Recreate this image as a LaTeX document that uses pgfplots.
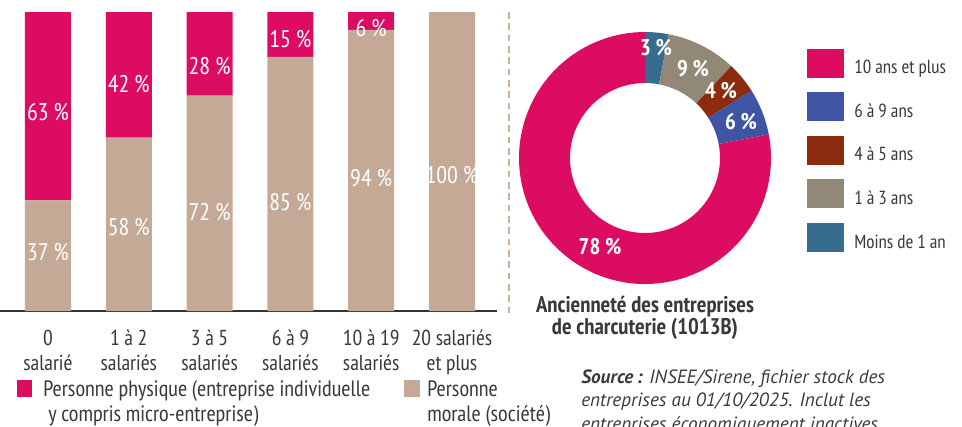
\documentclass[border=0pt]{standalone}
\usepackage{fontspec}
\usepackage{pgfplots}
\pgfplotsset{compat=1.18}
\IfFontExistsTF{PT Sans Narrow}{\setmainfont{PT Sans Narrow}}{\setmainfont{PT Sans}}
\newfontfamily\srcfont{PT Sans}
\definecolor{cpink}{RGB}{220,12,99}
\definecolor{ctan}{RGB}{196,169,150}
\definecolor{cteal}{RGB}{55,108,142}
\definecolor{cgray}{RGB}{145,136,120}
\definecolor{cbrown}{RGB}{140,43,16}
\definecolor{cblue}{RGB}{63,85,163}
\definecolor{txt}{RGB}{58,58,58}
\definecolor{csep}{RGB}{200,174,150}
\newcommand\sector[3]{\fill[#3] ([shift={(axis cs:0,0)}]#1:94.5pt) arc[start angle=#1, end angle=#2, radius=94.5pt] -- ([shift={(axis cs:0,0)}]#2:56.25pt) arc[start angle=#2, end angle=#1, radius=56.25pt] -- cycle;}
\begin{document}
\begin{tikzpicture}
\path[use as bounding box] (0pt,0pt) rectangle (721.5pt,-319.5pt);
% ---------- stacked bars ----------
\begin{axis}[at={(0pt,-233.25pt)}, anchor=south west, scale only axis,
  width=372.75pt, height=224.25pt,
  xmin=-0.594, xmax=5.557, ymin=0, ymax=100,
  ybar stacked, bar width=34.5pt,
  axis y line=none, axis x line*=bottom,
  axis line style={-, draw=black!80, line width=0.9pt},
  xtick={0,1,2,3,4,5},
  xticklabels={{0\\salarié},{1 à 2\\salariés},{3 à 5\\salariés},{6 à 9\\salariés},{10 à 19\\salariés},{20 salariés\\et plus}},
  xticklabel style={align=center, font=\fontsize{16.2}{18.75}\selectfont, text=txt, inner sep=0pt, anchor=north, yshift=-14pt},
  major tick length=0pt, clip=false]
\addplot[fill=ctan, draw=none] coordinates {(0,37) (1,58) (2,72) (3,85) (4,94) (5,100)};
\addplot[fill=cpink, draw=none] coordinates {(0,63) (1,42) (2,28) (3,15) (4,6) (5,0)};
\end{axis}
\begin{axis}[at={(0pt,-233.25pt)}, anchor=south west, scale only axis,
  width=372.75pt, height=224.25pt,
  xmin=-0.594, xmax=5.557, ymin=0, ymax=100, hide axis, clip=false]
\addplot[draw=none, mark=none, nodes near coords, point meta=explicit symbolic,
  every node near coord/.style={anchor=center, text=white, font=\fontsize{18}{18}\selectfont}]
  coordinates {(0,66.5)[63 \%] (1,76)[42 \%] (2,82)[28 \%] (3,91)[15 \%] (4,94.6)[6 \%]
               (0,19.7)[37 \%] (1,28)[58 \%] (2,33)[72 \%] (3,36.5)[85 \%] (4,44.5)[94 \%] (5,45.5)[100 \%]};
\end{axis}
% ---------- donut ----------
\pgfmathsetmacro\aA{90}
\pgfmathsetmacro\aB{\aA-3.6*3}
\pgfmathsetmacro\aC{\aB-3.6*9}
\pgfmathsetmacro\aD{\aC-3.6*4}
\pgfmathsetmacro\aE{\aD-3.6*6}
\pgfmathsetmacro\aF{\aE-3.6*78}
\begin{axis}[at={(483.75pt,-118.5pt)}, anchor=center, scale only axis,
  width=195pt, height=195pt, xmin=-130, xmax=130, ymin=-130, ymax=130,
  hide axis, clip=false]
\sector{\aA}{\aB}{cteal}
\sector{\aB}{\aC}{cgray}
\sector{\aC}{\aD}{cbrown}
\sector{\aD}{\aE}{cblue}
\sector{\aE}{\aF}{cpink}
\addplot[draw=none, mark=none, nodes near coords, point meta=explicit symbolic,
  every node near coord/.style={anchor=center, text=white, font=\bfseries\fontsize{17}{17}\selectfont}]
  coordinates {(11,110)[3 \%] (48,89)[9 \%] (76,67)[4 \%] (96,36)[6 \%] (-45,-89)[78 \%]};
\end{axis}
\begin{scope}[x=0.75pt,y=-0.75pt]
% bar legend
\fill[cpink] (17,380) rectangle (32,397);
\fill[ctan] (404,380) rectangle (420,397);
\node[anchor=base west, inner sep=0pt, text=txt, font=\fontsize{16.7}{20}\selectfont] at (43,396) {Personne physique (entreprise individuelle};
\node[anchor=base west, inner sep=0pt, text=txt, font=\fontsize{16.7}{20}\selectfont] at (48,421) {y compris micro-entreprise)};
\node[anchor=base west, inner sep=0pt, text=txt, font=\fontsize{16.7}{20}\selectfont] at (427,396) {Personne};
\node[anchor=base west, inner sep=0pt, text=txt, font=\fontsize{16.7}{20}\selectfont] at (427,421) {morale (société)};
% separator
\draw[csep, line width=1.1pt, dash pattern=on 5pt off 3.5pt] (509,12) -- (509,313);
% donut legend
\fill[cpink]  (807,49)  rectangle (844,78);
\fill[cblue]  (807,92)  rectangle (844,121);
\fill[cbrown] (807,136) rectangle (844,165);
\fill[cgray]  (807,179) rectangle (844,208);
\fill[cteal]  (807,223) rectangle (844,252);
\node[anchor=base west, inner sep=0pt, text=txt, font=\fontsize{14.2}{17}\selectfont] at (854,73) {10 ans et plus};
\node[anchor=base west, inner sep=0pt, text=txt, font=\fontsize{14.2}{17}\selectfont] at (854,117) {6 à 9 ans};
\node[anchor=base west, inner sep=0pt, text=txt, font=\fontsize{14.2}{17}\selectfont] at (854,160) {4 à 5 ans};
\node[anchor=base west, inner sep=0pt, text=txt, font=\fontsize{14.2}{17}\selectfont] at (854,204) {1 à 3 ans};
\node[anchor=base west, inner sep=0pt, text=txt, font=\fontsize{14.2}{17}\selectfont] at (854,248) {Moins de 1 an};
% title
\node[anchor=base, inner sep=0pt, text=txt, font=\bfseries\fontsize{17}{19}\selectfont] at (645,312) {Ancienneté des entreprises};
\node[anchor=base, inner sep=0pt, text=txt, font=\bfseries\fontsize{17}{19}\selectfont] at (645,334) {de charcuterie (1013B)};
% source
\node[anchor=base west, inner sep=0pt, text=txt, font=\srcfont\itshape\fontsize{14.4}{17}\selectfont] at (581,383) {\textbf{Source\,:} INSEE/Sirene, fichier stock des};
\node[anchor=base west, inner sep=0pt, text=txt, font=\srcfont\itshape\fontsize{14.4}{17}\selectfont] at (581,406) {entreprises au 01/10/2025. Inclut les};
\node[anchor=base west, inner sep=0pt, text=txt, font=\srcfont\itshape\fontsize{14.4}{17}\selectfont] at (581,430) {entreprises économiquement inactives.};
\end{scope}
\end{tikzpicture}
\end{document}
